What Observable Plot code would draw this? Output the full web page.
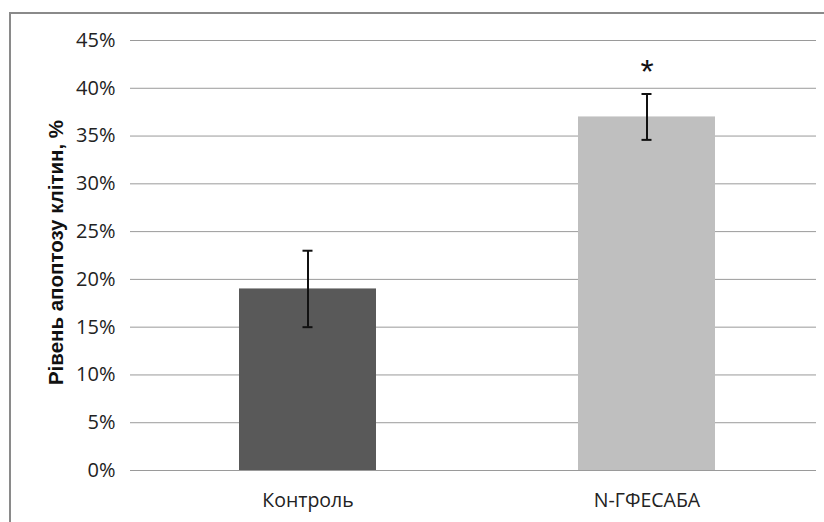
<!DOCTYPE html>
<html>
<head>
<meta charset="utf-8">
<script src="https://cdn.jsdelivr.net/npm/d3@7"></script>
<script src="https://cdn.jsdelivr.net/npm/@observablehq/plot@0.6"></script>
<style>
  html, body { margin: 0; padding: 0; background: #fff; overflow: hidden; }
  #wrap { position: relative; width: 824px; height: 522px; overflow: hidden; }
  #frame { position: absolute; left: 9px; top: 12px; width: 900px; height: 600px; border: 2px solid #8a8a8a; box-sizing: border-box; }
  #chart { position: absolute; left: 0; top: 0; }
  #chart svg { background: transparent !important; }
</style>
</head>
<body>
<div id="wrap"><div id="frame"></div><div id="chart"></div></div>
<script>
const categories = ["Контроль", "N-ГФЕСАБА"];
const values = [0.19, 0.37];
const errors = [0.04, 0.024];
const significance = ["", "*"];
const yTicks = [0, 0.05, 0.10, 0.15, 0.20, 0.25, 0.30, 0.35, 0.40, 0.45];
const yTitle = "Рівень апоптозу клітин, %";
const colors = ["#595959", "#bfbfbf"];

const data = categories.map((c, i) => ({
  cat: c, value: values[i], lo: values[i] - errors[i], hi: values[i] + errors[i], sig: significance[i]
}));

const chart = Plot.plot({
  width: 824,
  height: 522,
  marginLeft: 137,
  marginRight: 8,
  marginTop: 40,
  marginBottom: 52,
  style: { background: "transparent", fontFamily: "'Open Sans', sans-serif", fontSize: "20px", color: "#222" },
  x: { domain: categories, paddingInner: 0.597, paddingOuter: 0.2985, label: null },
  y: { domain: [0, 0.45], label: null },
  color: { domain: categories, range: colors },
  marks: [
    Plot.gridY(yTicks, { stroke: "#9a9a9a", strokeOpacity: 1, strokeWidth: 1 }),
    Plot.axisY({ ticks: yTicks, tickFormat: d3.format(".0%"), tickSize: 7, tickPadding: 15, stroke: "#9a9a9a", strokeOpacity: 1, label: null, fontSize: 20, fill: "#222" }),
    Plot.axisX({ tickSize: 0, tickPadding: 23, label: null, fontSize: 19.5, fill: "#222" }),
    Plot.barY(data, { x: "cat", y: "value", fill: "cat" }),
    Plot.ruleX(data, { x: "cat", y1: "lo", y2: "hi", stroke: "#111", strokeWidth: 2 }),
    Plot.tickY(data, { x: "cat", y: "lo", stroke: "#111", strokeWidth: 2, insetLeft: 63.5, insetRight: 63.5 }),
    Plot.tickY(data, { x: "cat", y: "hi", stroke: "#111", strokeWidth: 2, insetLeft: 63.5, insetRight: 63.5 }),
    Plot.text(data, { x: "cat", y: d => d.hi + 0.027, text: "sig", fontSize: 34, fill: "#111", fontFamily: "'Liberation Sans', sans-serif", lineAnchor: "middle", dy: 4 }),
    Plot.text([yTitle], { frameAnchor: "left", text: d => d, rotate: -90, dx: -75, dy: -3, fontWeight: "bold", fontSize: 20.5, fill: "#111", fontFamily: "'Liberation Sans', Arial, sans-serif", textAnchor: "middle", lineAnchor: "bottom" })
  ]
});
document.getElementById("chart").appendChild(chart);
</script>
</body>
</html>
